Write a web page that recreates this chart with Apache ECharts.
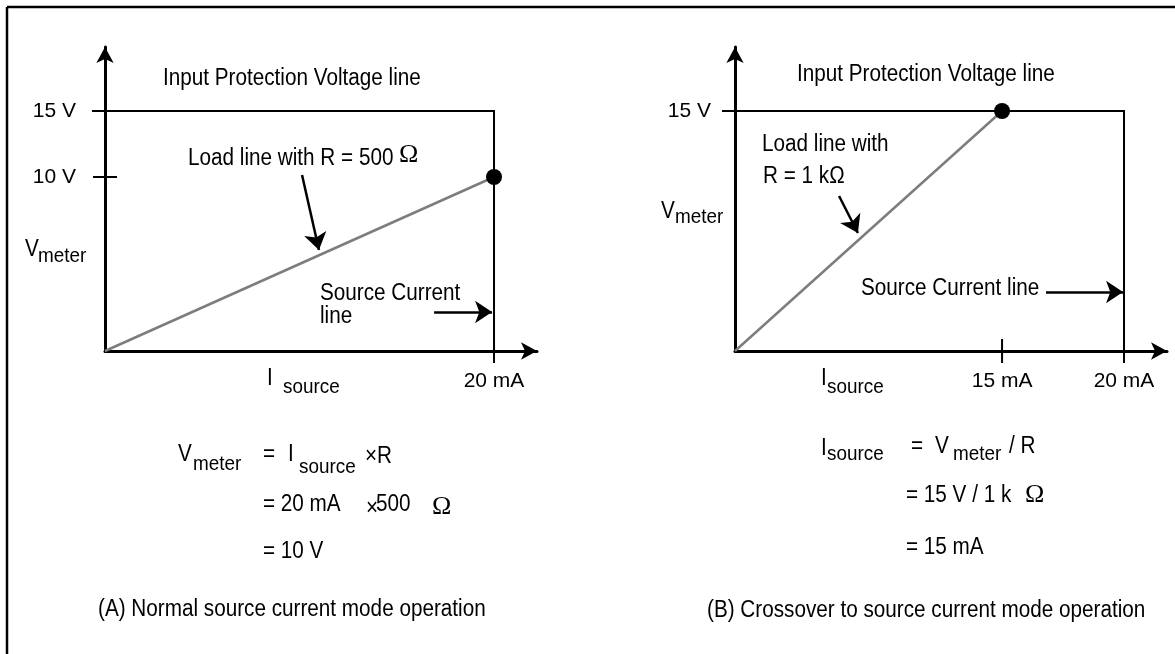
<!DOCTYPE html>
<html>
<head>
<meta charset="utf-8">
<script src="https://cdn.jsdelivr.net/npm/echarts@6/dist/echarts.min.js"></script>
<style>html,body{margin:0;padding:0;background:#fff}#c{width:1175px;height:654px}</style>
</head>
<body>
<div id="c"></div>
<script>
// ---- data (schematic positions, in axis units) ----
const xMarksA = [20];            const xLabelsA = ['20 mA'];
const yMarksA = [10.875, 15];    const yLabelsA = ['10 V', '15 V'];
const xMarksB = [13.73, 20];     const xLabelsB = ['15 mA', '20 mA'];
const yMarksB = [15];            const yLabelsB = ['15 V'];
const pointA = [20, 10.875];     // operating point (A): 20 mA, 10 V
const pointB = [13.73, 15];      // operating point (B): 15 mA, 15 V
const limitCurrent = 20;         // source current line
const limitVoltage = 15;         // input protection voltage line
const arrowsA = [[[10.13, 11.0], [11.0, 6.31]], [[16.92, 2.44], [19.9, 2.44]]];
const arrowsB = [[[5.35, 9.69], [6.32, 7.375]], [[15.99, 3.69], [19.95, 3.69]]];

const FF = "'Liberation Sans','Arial',sans-serif";
const F = 23, FS = 21, SX = 0.9;
const chart = echarts.init(document.getElementById('c'), null, {renderer: 'canvas'});

function lookup(marks, labels) {
  return v => { for (let i = 0; i < marks.length; i++) if (Math.abs(marks[i] - v) < 1e-6) return labels[i]; return ''; };
}
function xAx(idx, marks, labels) {
  return {
    type: 'value', gridIndex: idx, min: 0, max: 22.21,
    axisLine: {show: true, symbol: ['none', 'arrow'], symbolSize: [13, 16], lineStyle: {color: '#000', width: 3}},
    axisTick: {show: false}, splitLine: {show: false},
    axisLabel: {customValues: marks, formatter: lookup(marks, labels), margin: 20, color: '#000', fontFamily: FF, fontSize: 21}
  };
}
function yAx(idx, marks, labels, margin) {
  return {
    type: 'value', gridIndex: idx, min: 0, max: 19,
    axisLine: {show: true, symbol: ['none', 'arrow'], symbolSize: [13, 16], lineStyle: {color: '#000', width: 3}},
    axisTick: {show: false}, splitLine: {show: false},
    axisLabel: {customValues: marks, formatter: lookup(marks, labels), margin: margin, color: '#000', fontFamily: FF, fontSize: 21}
  };
}
function seg(idx, coords, color, width) {
  return {type: 'lines', coordinateSystem: 'cartesian2d', xAxisIndex: idx, yAxisIndex: idx, polyline: true,
    data: [{coords}], clip: false, symbol: 'none', silent: true, animation: false, z: 3,
    lineStyle: {color, width, opacity: 1}};
}
function arrows(idx, list) {
  return {type: 'lines', coordinateSystem: 'cartesian2d', xAxisIndex: idx, yAxisIndex: idx, clip: false,
    data: list.map(c => ({coords: c})), symbol: ['none', 'arrow'], symbolSize: 17,
    lineStyle: {color: '#000', width: 2.5, opacity: 1}, animation: false, z: 4};
}
const hx = 0.617, hy = 0.75; // half tick length (12 px)

const texts = [
  // panel A
  ['Input Protection Voltage line', 163, 78.5, F],
  ['Load line with R = 500', 188, 158.5, F],
  ['V', 25, 249.5, F], ['meter', 38, 256, FS],
  ['Source Current', 320, 293.5, F], ['line', 320, 316.5, F],
  ['I', 267, 378.5, F], ['source', 283, 387, FS],
  ['V', 178, 454.5, F], ['meter', 193, 464, FS],
  ['=', 263, 454.5, F], ['I', 288, 454.5, F], ['source', 299, 467, FS], ['×R', 365, 456.5, F],
  ['= 20 mA', 263, 504.5, F], ['500', 376, 504.5, F], ['×', 366, 509, F],
  ['= 10 V', 263, 551.5, F],
  ['(A) Normal source current mode operation', 98, 609.5, F],
  // panel B
  ['Input Protection Voltage line', 797, 74.5, F],
  ['Load line with', 762, 144.5, F], ['R = 1 kΩ', 763, 176.5, F],
  ['V', 661, 211.5, F], ['meter', 675, 217, FS],
  ['Source Current line', 861, 288.5, F],
  ['I', 821, 378.5, F], ['source', 827, 387, FS],
  ['I', 821, 448.5, F], ['source', 827, 454, FS],
  ['=', 911, 446.5, F], ['V', 935, 446.5, F], ['meter', 953, 454, FS], ['/ R', 1009, 446.5, F],
  ['= 15 V / 1 k', 906, 495.5, F],
  ['= 15 mA', 906, 547.5, F],
  ['(B) Crossover to source current mode operation', 707, 610.5, F]
];
const omegas = [[399, 155, 26], [432, 507, 26], [1025, 495, 26]];

const graphic = [
  {type: 'line', shape: {x1: 7, y1: 7, x2: 1180, y2: 7}, style: {stroke: '#000', lineWidth: 2.5}},
  {type: 'line', shape: {x1: 7, y1: 7, x2: 7, y2: 660}, style: {stroke: '#000', lineWidth: 2.5}}
].concat(texts.map(t => ({type: 'text', x: t[1], y: t[2], scaleX: SX, style: {text: t[0], fill: '#000',
  font: t[3] + 'px ' + FF, textAlign: 'left', textVerticalAlign: 'middle'}})))
 .concat(omegas.map(t => ({type: 'text', x: t[0], y: t[1], style: {text: 'Ω', fill: '#000',
  font: t[2] + 'px "Liberation Serif", serif', textAlign: 'left', textVerticalAlign: 'middle'}})));

chart.setOption({
  animation: false,
  backgroundColor: '#fff',
  grid: [
    {left: 105, top: 47, width: 432, height: 304},
    {left: 735, top: 47, width: 432, height: 304}
  ],
  xAxis: [xAx(0, xMarksA, xLabelsA), xAx(1, xMarksB, xLabelsB)],
  yAxis: [yAx(0, yMarksA, yLabelsA, 29), yAx(1, yMarksB, yLabelsB, 24)],
  series: [
    seg(0, [[-0.67, limitVoltage], [limitCurrent, limitVoltage], [limitCurrent, -hy]], '#000', 2),
    seg(0, [[-hx, yMarksA[0]], [hx, yMarksA[0]]], '#000', 2),
    seg(0, [[0, 0], pointA], '#7d7d7d', 2.5),
    {type: 'scatter', xAxisIndex: 0, yAxisIndex: 0, data: [pointA], symbolSize: 16, itemStyle: {color: '#000', opacity: 1}, z: 5},
    arrows(0, arrowsA),
    seg(1, [[-0.67, limitVoltage], [limitCurrent, limitVoltage], [limitCurrent, -hy]], '#000', 2),
    seg(1, [[xMarksB[0], hy], [xMarksB[0], -hy]], '#000', 2),
    seg(1, [[0, 0], pointB], '#7d7d7d', 2.5),
    {type: 'scatter', xAxisIndex: 1, yAxisIndex: 1, data: [pointB], symbolSize: 16, itemStyle: {color: '#000', opacity: 1}, z: 5},
    arrows(1, arrowsB)
  ],
  graphic: graphic
});
</script>
</body>
</html>
